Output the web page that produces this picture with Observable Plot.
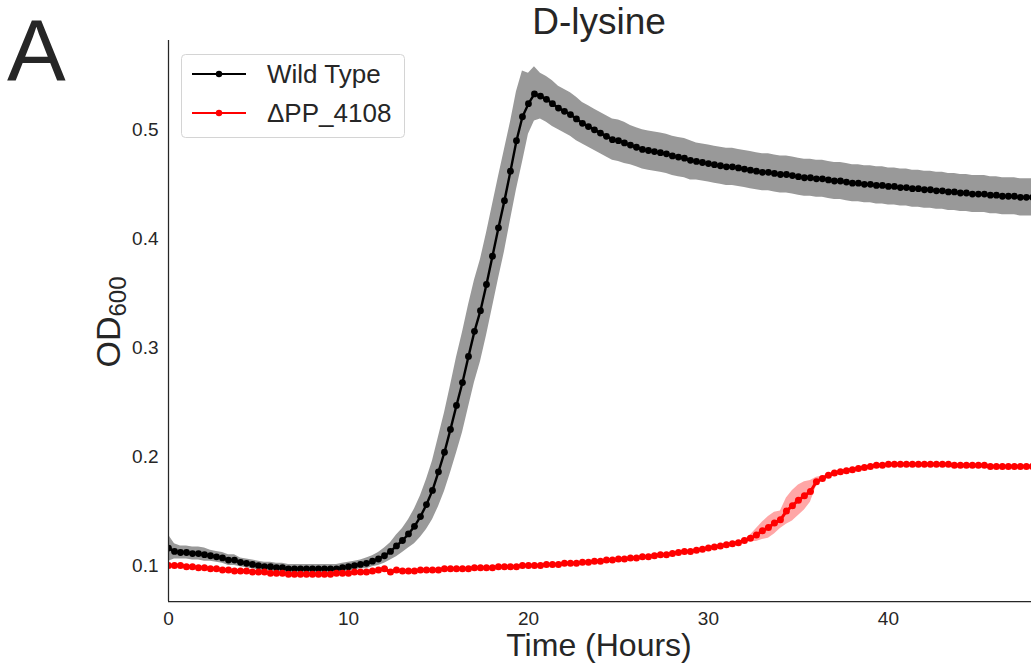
<!DOCTYPE html>
<html>
<head>
<meta charset="utf-8">
<script src="https://cdn.jsdelivr.net/npm/d3@7"></script>
<script src="https://cdn.jsdelivr.net/npm/@observablehq/plot@0.6"></script>
<style>
  html, body { margin: 0; padding: 0; background: white; }
  svg { display: block; }
</style>
</head>
<body>
<div id="chart"></div>
<script>
// Sampling grid: one reading every 20 minutes from 0 to 48 h
const hours = Array.from({length: 145}, (_, i) => i / 3);

// Wild Type mean OD600
const wtMean = [
  0.116, 0.113, 0.112, 0.112, 0.111, 0.111, 0.110, 0.109, 0.108,
  0.107, 0.105, 0.105, 0.103, 0.102, 0.101, 0.100, 0.099, 0.099,
  0.098, 0.098, 0.097, 0.097, 0.097, 0.097, 0.097, 0.097, 0.097,
  0.097, 0.097, 0.098, 0.099, 0.100, 0.101, 0.102, 0.104, 0.106,
  0.109, 0.113, 0.118, 0.123, 0.129, 0.136, 0.145, 0.156, 0.169,
  0.186, 0.204, 0.225, 0.247, 0.268, 0.292, 0.315, 0.334, 0.358,
  0.384, 0.410, 0.435, 0.462, 0.490, 0.512, 0.524, 0.533, 0.531,
  0.528, 0.524, 0.520, 0.517, 0.514, 0.510, 0.506, 0.503, 0.500,
  0.497, 0.494, 0.491, 0.490, 0.488, 0.486, 0.484, 0.482, 0.481,
  0.480, 0.479, 0.478, 0.476, 0.475, 0.474, 0.472, 0.471, 0.470,
  0.469, 0.468, 0.467, 0.466, 0.466, 0.465, 0.464, 0.463, 0.462,
  0.461, 0.461, 0.460, 0.459, 0.459, 0.458, 0.457, 0.456, 0.456,
  0.455, 0.455, 0.454, 0.453, 0.453, 0.452, 0.451, 0.451, 0.450,
  0.450, 0.449, 0.449, 0.448, 0.448, 0.447, 0.447, 0.446, 0.446,
  0.445, 0.445, 0.444, 0.444, 0.443, 0.443, 0.442, 0.442, 0.441,
  0.441, 0.441, 0.440, 0.440, 0.439, 0.439, 0.439, 0.438, 0.438,
  0.438
];

// Wild Type spread (half-width of the grey band)
const wtSpread = [
  0.012, 0.007, 0.006, 0.006, 0.006, 0.006, 0.006, 0.005, 0.005,
  0.005, 0.005, 0.005, 0.004, 0.004, 0.004, 0.004, 0.004, 0.004,
  0.004, 0.004, 0.004, 0.004, 0.004, 0.004, 0.004, 0.004, 0.004,
  0.004, 0.004, 0.004, 0.004, 0.004, 0.004, 0.005, 0.005, 0.006,
  0.007, 0.008, 0.010, 0.011, 0.013, 0.016, 0.019, 0.023, 0.027,
  0.032, 0.036, 0.040, 0.044, 0.046, 0.047, 0.047, 0.047, 0.047,
  0.047, 0.047, 0.047, 0.045, 0.045, 0.042, 0.028, 0.025, 0.021,
  0.021, 0.021, 0.020, 0.020, 0.020, 0.020, 0.019, 0.019, 0.019,
  0.019, 0.019, 0.019, 0.019, 0.019, 0.018, 0.018, 0.018, 0.018,
  0.018, 0.018, 0.018, 0.018, 0.018, 0.018, 0.018, 0.017, 0.017,
  0.017, 0.017, 0.017, 0.017, 0.017, 0.017, 0.017, 0.017, 0.017,
  0.017, 0.017, 0.017, 0.017, 0.017, 0.017, 0.017, 0.017, 0.017,
  0.017, 0.017, 0.017, 0.017, 0.017, 0.017, 0.017, 0.017, 0.017,
  0.017, 0.017, 0.017, 0.017, 0.017, 0.017, 0.017, 0.017, 0.017,
  0.017, 0.017, 0.017, 0.017, 0.017, 0.017, 0.017, 0.017, 0.017,
  0.017, 0.017, 0.017, 0.017, 0.017, 0.017, 0.017, 0.017, 0.017,
  0.017
];

// ΔPP_4108 mean OD600
const mutMean = [
  0.100, 0.100, 0.100, 0.099, 0.099, 0.098, 0.098, 0.097, 0.097,
  0.096, 0.096, 0.095, 0.095, 0.095, 0.094, 0.094, 0.094, 0.093,
  0.093, 0.093, 0.092, 0.092, 0.092, 0.092, 0.092, 0.092, 0.092,
  0.092, 0.093, 0.093, 0.093, 0.094, 0.094, 0.094, 0.095, 0.096,
  0.097, 0.094, 0.096, 0.095, 0.095, 0.095, 0.096, 0.096, 0.096,
  0.096, 0.097, 0.097, 0.097, 0.097, 0.097, 0.098, 0.098, 0.098,
  0.098, 0.099, 0.099, 0.099, 0.099, 0.100, 0.100, 0.100, 0.100,
  0.101, 0.101, 0.101, 0.102, 0.102, 0.102, 0.103, 0.103, 0.104,
  0.104, 0.105, 0.105, 0.106, 0.106, 0.107, 0.107, 0.108, 0.108,
  0.109, 0.110, 0.110, 0.111, 0.112, 0.113, 0.113, 0.114, 0.115,
  0.116, 0.117, 0.118, 0.119, 0.120, 0.121, 0.123, 0.125, 0.128,
  0.132, 0.135, 0.139, 0.142, 0.150, 0.155, 0.160, 0.164, 0.168,
  0.177, 0.180, 0.183, 0.185, 0.186, 0.187, 0.188, 0.189, 0.190,
  0.191, 0.192, 0.192, 0.193, 0.193, 0.193, 0.193, 0.193, 0.193,
  0.193, 0.193, 0.193, 0.193, 0.193, 0.192, 0.192, 0.192, 0.192,
  0.192, 0.192, 0.191, 0.191, 0.191, 0.191, 0.191, 0.191, 0.191,
  0.191
];

// ΔPP_4108 spread (half-width of the pink band)
const mutSpread = [
  0.001, 0.001, 0.001, 0.001, 0.001, 0.001, 0.001, 0.001, 0.001,
  0.001, 0.001, 0.001, 0.001, 0.001, 0.001, 0.001, 0.001, 0.001,
  0.001, 0.001, 0.001, 0.001, 0.001, 0.001, 0.001, 0.001, 0.001,
  0.001, 0.001, 0.001, 0.001, 0.001, 0.001, 0.001, 0.001, 0.001,
  0.001, 0.001, 0.001, 0.001, 0.001, 0.001, 0.001, 0.001, 0.001,
  0.001, 0.001, 0.001, 0.001, 0.001, 0.001, 0.001, 0.001, 0.001,
  0.001, 0.001, 0.001, 0.001, 0.001, 0.001, 0.001, 0.001, 0.001,
  0.001, 0.001, 0.001, 0.001, 0.001, 0.001, 0.001, 0.001, 0.001,
  0.001, 0.001, 0.001, 0.001, 0.001, 0.001, 0.001, 0.001, 0.001,
  0.001, 0.001, 0.001, 0.001, 0.001, 0.001, 0.001, 0.001, 0.001,
  0.001, 0.001, 0.001, 0.001, 0.001, 0.001, 0.001, 0.003, 0.006,
  0.008, 0.010, 0.010, 0.008, 0.012, 0.014, 0.014, 0.013, 0.010,
  0.004, 0.002, 0.001, 0.001, 0.001, 0.001, 0.001, 0.001, 0.001,
  0.001, 0.001, 0.001, 0.001, 0.001, 0.001, 0.001, 0.001, 0.001,
  0.001, 0.001, 0.001, 0.001, 0.001, 0.001, 0.001, 0.001, 0.001,
  0.001, 0.001, 0.001, 0.001, 0.001, 0.001, 0.001, 0.001, 0.001,
  0.001
];

const xTicks = [0, 10, 20, 30, 40];
const yTicks = [0.1, 0.2, 0.3, 0.4, 0.5];
const seriesNames = ["Wild Type", "ΔPP_4108"];
const seriesColors = ["black", "red"];

const wt = hours.map((t, i) => ({t, m: wtMean[i], lo: wtMean[i] - wtSpread[i], hi: wtMean[i] + wtSpread[i]}));
const mut = hours.map((t, i) => ({t, m: mutMean[i], lo: mutMean[i] - mutSpread[i], hi: mutMean[i] + mutSpread[i]}));

const xDomain = [0, 47.95];
const yDomain = [0.067, 0.582];
const FONT = "'Liberation Sans', Arial, Helvetica, sans-serif";
const INK = "#262626";

const chart = Plot.plot({
  width: 1031,
  height: 664,
  marginLeft: 168,
  marginRight: 0,
  marginTop: 40,
  marginBottom: 63,
  style: {fontFamily: FONT, fontSize: "19px", color: INK, background: "white", overflow: "visible"},
  x: {domain: xDomain, label: null},
  y: {domain: yDomain, label: null},
  marks: [
    Plot.axisX({ticks: xTicks, tickSize: 0, tickPadding: 10, fontSize: 19, fill: INK, label: null}),
    Plot.axisY({ticks: yTicks, tickFormat: d => d.toFixed(1), tickSize: 0, tickPadding: 10, fontSize: 19, fill: INK, label: null}),
    Plot.areaY(wt, {x: "t", y1: "lo", y2: "hi", fill: "#999999", clip: true}),
    Plot.lineY(wt, {x: "t", y: "m", stroke: seriesColors[0], strokeWidth: 2.4, clip: true}),
    Plot.dot(wt, {x: "t", y: "m", r: 3.4, fill: seriesColors[0], stroke: "none", clip: true}),
    Plot.areaY(mut, {x: "t", y1: "lo", y2: "hi", fill: seriesColors[1], fillOpacity: 0.35, clip: true}),
    Plot.lineY(mut, {x: "t", y: "m", stroke: seriesColors[1], strokeWidth: 3, clip: true}),
    Plot.dot(mut, {x: "t", y: "m", r: 3.5, fill: seriesColors[1], stroke: "none", clip: true}),
    Plot.ruleX([xDomain[0]], {stroke: INK, strokeWidth: 1.25}),
    Plot.ruleY([yDomain[0]], {stroke: INK, strokeWidth: 1.25})
  ]
});

document.getElementById("chart").appendChild(chart);
const svg = d3.select(chart);

// Panel letter
svg.append("text").attr("x", 7).attr("y", 81).attr("text-anchor", "start")
  .attr("font-family", FONT).attr("font-size", 88).attr("fill", INK)
  .text("A");

// Title
svg.append("text").attr("x", 599).attr("y", 34).attr("text-anchor", "middle")
  .attr("font-family", FONT).attr("font-size", 37).attr("fill", INK)
  .text("D-lysine");

// X label
svg.append("text").attr("x", 599).attr("y", 656).attr("text-anchor", "middle")
  .attr("font-family", FONT).attr("font-size", 32).attr("fill", INK)
  .text("Time (Hours)");

// Y label with subscript
const yl = svg.append("text")
  .attr("transform", "translate(120,322) rotate(-90)")
  .attr("text-anchor", "middle")
  .attr("font-family", FONT).attr("font-size", 34).attr("fill", INK);
yl.append("tspan").text("OD");
yl.append("tspan").attr("font-size", 24).attr("dy", 6).text("600");

// Legend
const lg = svg.append("g");
lg.append("rect").attr("x", 181.5).attr("y", 54.5).attr("width", 223).attr("height", 83)
  .attr("rx", 4).attr("fill", "white").attr("fill-opacity", 0.85)
  .attr("stroke", "#d4d4d4").attr("stroke-width", 1);
seriesNames.forEach((name, i) => {
  const y = 74 + i * 39;
  lg.append("line").attr("x1", 192).attr("x2", 246).attr("y1", y).attr("y2", y)
    .attr("stroke", seriesColors[i]).attr("stroke-width", 2);
  lg.append("circle").attr("cx", 219).attr("cy", y).attr("r", 3.2).attr("fill", seriesColors[i]);
  lg.append("text").attr("x", 267).attr("y", y).attr("dy", "0.36em").attr("text-anchor", "start")
    .attr("font-family", FONT).attr("font-size", 26).attr("fill", INK)
    .text(name);
});
</script>
</body>
</html>
